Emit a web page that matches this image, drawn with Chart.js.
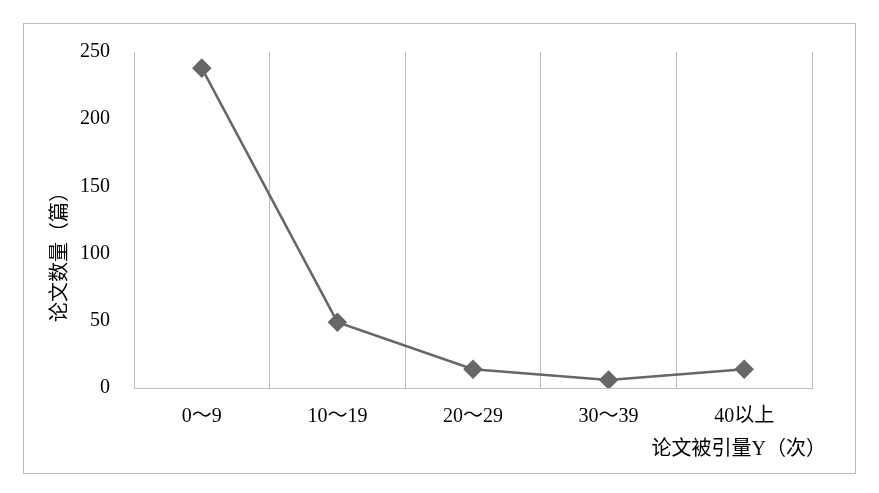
<!DOCTYPE html>
<html>
<head>
<meta charset="utf-8">
<script src="https://cdn.jsdelivr.net/npm/chart.js@4/dist/chart.umd.min.js"></script>
<style>
  html, body { margin: 0; padding: 0; background: #fff; }
  #wrap { width: 879px; height: 493px; }
</style>
</head>
<body>
<div id="wrap"><canvas id="chart" width="879" height="493"></canvas></div>
<script>
const categories = ['0～9', '10～19', '20～29', '30～39', '40以上'];
const paperCounts = [238, 49, 14, 6, 14];
const yTicks = [0, 50, 100, 150, 200, 250];
const yTitle = '论文数量（篇）';
const xTitle = '论文被引量Y（次）';

const FONT = '"Liberation Serif", "Times New Roman", "Noto Sans CJK SC", serif';
const GRID = '#bdbdbd';

// outer frame + axis titles
const frameAndTitles = {
  id: 'frameAndTitles',
  beforeDraw(chart) {
    const c = chart.ctx;
    c.save();
    c.fillStyle = '#fff';
    c.fillRect(0, 0, chart.width, chart.height);
    c.strokeStyle = GRID;
    c.lineWidth = 1;
    c.strokeRect(23.5, 23.5, 832, 450);
    c.restore();
  },
  afterDraw(chart) {
    const c = chart.ctx;
    const area = chart.chartArea;
    c.save();
    c.fillStyle = '#000';
    c.font = '20px ' + FONT;
    c.textBaseline = 'middle';
    c.textAlign = 'right';
    c.fillText(xTitle, area.right + 14, area.bottom + 62);
    c.translate(area.left - 73, (area.top + area.bottom) / 2 + 32);
    c.rotate(-Math.PI / 2);
    c.textAlign = 'center';
    c.fillText(yTitle, 0, 0);
    c.restore();
  }
};

new Chart(document.getElementById('chart'), {
  type: 'line',
  data: {
    labels: categories,
    datasets: [{
      data: paperCounts,
      borderColor: '#676767',
      backgroundColor: '#676767',
      borderWidth: 2.5,
      pointStyle: 'rectRot',
      pointRadius: 8,
      pointHoverRadius: 8,
      tension: 0
    }]
  },
  options: {
    responsive: false,
    animation: false,
    layout: { padding: { top: 52, right: 67, left: 0, bottom: 0 } },
    plugins: { legend: { display: false }, tooltip: { enabled: false } },
    scales: {
      x: {
        offset: true,
        grid: { offset: true, color: GRID, drawTicks: false, lineWidth: 1 },
        border: { color: GRID, width: 1 },
        ticks: { color: '#000', font: { family: FONT, size: 20 }, padding: 17, maxRotation: 0 },
        afterFit(scale) { scale.height = 105; }
      },
      y: {
        min: 0,
        max: 250,
        afterBuildTicks(scale) { scale.ticks = yTicks.map(v => ({ value: v })); },
        grid: { display: false, drawTicks: false },
        border: { color: GRID, width: 1 },
        ticks: { color: '#000', font: { family: FONT, size: 20 }, padding: 24 },
        afterFit(scale) { scale.width = 134; }
      }
    }
  },
  plugins: [frameAndTitles]
});
</script>
</body>
</html>
